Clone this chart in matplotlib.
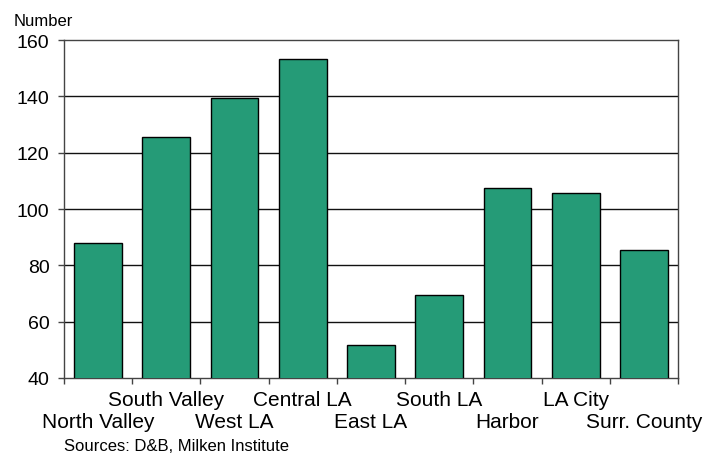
import matplotlib
matplotlib.use("Agg")
import matplotlib.pyplot as plt
import matplotlib.transforms as mtransforms
import numpy as np

regions = ["North Valley", "South Valley", "West LA", "Central LA", "East LA",
           "South LA", "Harbor", "LA City", "Surr. County"]
values = [88, 125.7, 139.5, 153.3, 51.8, 69.4, 107.6, 105.8, 85.4]
yticks = [40, 60, 80, 100, 120, 140, 160]

plt.rcParams['font.family'] = ['Liberation Sans', 'DejaVu Sans']

fig = plt.figure(figsize=(7.04, 4.56), dpi=100)
ax = fig.add_axes([64/704, 77/456, 614/704, 338/456])

x = np.arange(len(regions))
ax.bar(x, values, width=0.70, bottom=0, color="#259B77", edgecolor="black",
       linewidth=1, zorder=3)

ax.set_ylim(40, 160)
ax.set_xlim(-0.5, len(regions) - 0.5)
ax.set_yticks(yticks)
ax.set_yticklabels([str(v) for v in yticks], fontsize=14)
for v in yticks[1:-1]:
    ax.axhline(v, color="#111111", linewidth=1, zorder=1)

# ticks on the slot boundaries, names drawn as text in two staggered rows
ax.set_xticks(np.arange(len(regions) + 1) - 0.5)
ax.set_xticklabels([])
ax.tick_params(axis="both", direction="out", length=4.5, width=1, color="#444444")
ax.tick_params(axis="y", pad=6)

for s in ax.spines.values():
    s.set_color("#444444")
    s.set_linewidth(1)

trans = mtransforms.blended_transform_factory(ax.transData, fig.transFigure)
for i, name in enumerate(regions):
    ypos = 1 - 406/456 if i % 2 == 1 else 1 - 428/456
    ax.text(i, ypos, name, transform=trans, ha="center", va="baseline", fontsize=15)

fig.text(14/704, 1 - 26/456, "Number", ha="left", va="baseline", fontsize=12)
fig.text(64/704, 1 - 451/456, "Sources: D&B, Milken Institute", ha="left",
         va="baseline", fontsize=12)

fig.savefig("out.png", dpi=100)
